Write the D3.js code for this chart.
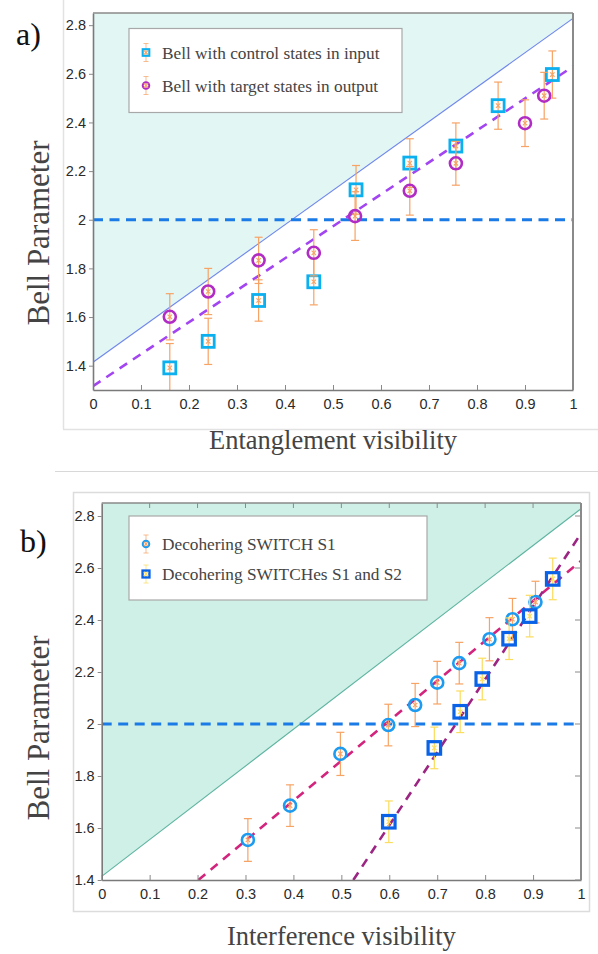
<!DOCTYPE html>
<html>
<head>
<meta charset="utf-8">
<script src="https://cdn.jsdelivr.net/npm/d3@7"></script>
<style>
  body { margin: 0; background: #fff; }
  svg { display: block; }
</style>
</head>
<body>
<svg width="598" height="954"></svg>
<script>
// panel a data
var visA_sq = [0.16, 0.24, 0.345, 0.46, 0.548, 0.66, 0.756, 0.844, 0.957];
var bellA_sq = [1.391, 1.50, 1.668, 1.745, 2.123, 2.233, 2.303, 2.469, 2.597];
var errA_sq = [0.10, 0.095, 0.085, 0.095, 0.10, 0.10, 0.095, 0.097, 0.097];

var visA_ci = [0.16, 0.24, 0.345, 0.46, 0.546, 0.66, 0.756, 0.90, 0.94];
var bellA_ci = [1.601, 1.705, 1.833, 1.864, 2.015, 2.119, 2.232, 2.397, 2.51];
var errA_ci = [0.095, 0.095, 0.095, 0.095, 0.10, 0.10, 0.09, 0.096, 0.096];

var fitA = [[0, 1.316], [1, 2.63]];

// panel b data
var visB_ci = [0.305, 0.393, 0.498, 0.598, 0.654, 0.70, 0.746, 0.809, 0.857, 0.905];
var bellB_ci = [1.554, 1.686, 1.885, 1.996, 2.073, 2.159, 2.234, 2.326, 2.403, 2.469];
var errB_ci = [0.082, 0.08, 0.083, 0.08, 0.083, 0.082, 0.08, 0.083, 0.08, 0.08];

var visB_sq = [0.599, 0.694, 0.748, 0.794, 0.85, 0.893, 0.941];
var bellB_sq = [1.624, 1.908, 2.047, 2.173, 2.328, 2.415, 2.558];
var errB_sq = [0.08, 0.08, 0.08, 0.08, 0.08, 0.08, 0.08];

var fitB1 = [[0.2017, 1.4], [1, 2.627]];
var fitB2 = [[0.525, 1.4], [1, 2.733]];

// classical bound line and reference level
var bound = [[0, 1.414], [1, 2.828]];
var classical = 2;

var xTicks = [0, 0.1, 0.2, 0.3, 0.4, 0.5, 0.6, 0.7, 0.8, 0.9, 1];
var yTicks = [1.4, 1.6, 1.8, 2, 2.2, 2.4, 2.6, 2.8];

var legendA = ['Bell with control states in input', 'Bell with target states in output'];
var legendB = ['Decohering SWITCH S1', 'Decohering SWITCHes S1 and S2'];

var svg = d3.select("svg");
var serif = "'Liberation Serif', 'DejaVu Serif', serif";
var sans = "'Liberation Sans', Arial, sans-serif";
var fmt = function(d){ return String(+d.toFixed(1)); };

// panel frames
svg.append("line").attr("x1", 63.5).attr("x2", 63.5).attr("y1", 0).attr("y2", 429)
  .attr("stroke", "#e2e2e2").attr("stroke-width", 1.5);
svg.append("line").attr("x1", 63).attr("x2", 598).attr("y1", 429.5).attr("y2", 429.5)
  .attr("stroke", "#e2e2e2").attr("stroke-width", 1.5);
svg.append("line").attr("x1", 55).attr("x2", 598).attr("y1", 471.5).attr("y2", 471.5)
  .attr("stroke", "#d8d8d8").attr("stroke-width", 1);
svg.append("rect").attr("x", 73.5).attr("y", 492.5).attr("width", 516).attr("height", 419)
  .attr("fill", "none").attr("stroke", "#dcdcdc").attr("stroke-width", 1.5);

function drawPanel(p) {
  var x = d3.scaleLinear().domain([0, 1]).range([p.left, p.right]);
  var y = d3.scaleLinear().domain(p.ydom).range([p.bottom, p.top]);
  var g = svg.append("g");
  var clipId = "clip" + p.id;
  g.append("clipPath").attr("id", clipId).append("rect")
    .attr("x", p.left).attr("y", p.top).attr("width", p.right - p.left).attr("height", p.bottom - p.top);
  var area = g.append("g").attr("clip-path", "url(#" + clipId + ")");

  // quantum region above the bound line
  var topY = p.ydom[1] + 1;
  area.append("path")
    .attr("d", "M" + x(bound[0][0]) + "," + y(bound[0][1]) +
      "L" + x(bound[1][0]) + "," + y(bound[1][1]) +
      "L" + x(1) + "," + y(topY) + "L" + x(0) + "," + y(topY) + "Z")
    .attr("fill", p.fill);
  area.append("line")
    .attr("x1", x(bound[0][0])).attr("y1", y(bound[0][1]))
    .attr("x2", x(bound[1][0])).attr("y2", y(bound[1][1]))
    .attr("stroke", p.boundColor).attr("stroke-width", 1.1);

  // classical limit
  area.append("line")
    .attr("x1", x(0)).attr("x2", x(1)).attr("y1", y(classical)).attr("y2", y(classical))
    .attr("stroke", "#1a7ae6").attr("stroke-width", 3).attr("stroke-dasharray", "10,6.5");

  // fits
  p.fits.forEach(function(f){
    area.append("line")
      .attr("x1", x(f.pts[0][0])).attr("y1", y(f.pts[0][1]))
      .attr("x2", x(f.pts[1][0])).attr("y2", y(f.pts[1][1]))
      .attr("stroke", f.color).attr("stroke-width", 2.6).attr("stroke-dasharray", "9,7");
  });

  // series
  p.series.forEach(function(s){
    var data = s.vis.map(function(v, i){ return { x: v, y: s.bell[i], e: s.err[i] }; });
    var eg = area.append("g").attr("stroke", s.errColor).attr("stroke-width", 1.2);
    data.forEach(function(d){
      var cx = x(d.x);
      eg.append("line").attr("x1", cx).attr("x2", cx).attr("y1", y(d.y - d.e)).attr("y2", y(d.y + d.e));
      eg.append("line").attr("x1", cx - 4).attr("x2", cx + 4).attr("y1", y(d.y - d.e)).attr("y2", y(d.y - d.e));
      eg.append("line").attr("x1", cx - 4).attr("x2", cx + 4).attr("y1", y(d.y + d.e)).attr("y2", y(d.y + d.e));
    });
    data.forEach(function(d){
      drawMarker(area, s, x(d.x), y(d.y));
    });
  });

  // axes
  var ax = g.append("g").attr("transform", "translate(0," + p.bottom + ")")
    .call(d3.axisBottom(x).tickValues(xTicks).tickFormat(fmt).tickSizeInner(-5).tickSizeOuter(0).tickPadding(9));
  var ay = g.append("g").attr("transform", "translate(" + p.left + ",0)")
    .call(d3.axisLeft(y).tickValues(yTicks).tickFormat(fmt).tickSizeInner(4).tickSizeOuter(0).tickPadding(3));
  [ax, ay].forEach(function(a){
    a.select(".domain").attr("stroke", "#7a7a7a").attr("stroke-width", 1.6);
    a.selectAll(".tick line").attr("stroke", "#8a8a8a");
    a.selectAll(".tick text").attr("font-family", sans).attr("font-size", 14.5).attr("fill", "#2a2a2a");
  });

  // top and right borders
  g.append("line").attr("x1", p.left).attr("x2", p.right).attr("y1", p.top).attr("y2", p.top)
    .attr("stroke", "#8a8a8a").attr("stroke-width", 1.6);
  g.append("line").attr("x1", p.right).attr("x2", p.right).attr("y1", p.top).attr("y2", p.bottom)
    .attr("stroke", "#8a8a8a").attr("stroke-width", 2);
  if (p.boxTicks) {
    xTicks.slice(1, -1).forEach(function(t){
      g.append("line").attr("x1", x(t)).attr("x2", x(t)).attr("y1", p.top).attr("y2", p.top + 5)
        .attr("stroke", "#8a8a8a");
    });
    yTicks.forEach(function(t){
      g.append("line").attr("x1", p.right - 6).attr("x2", p.right).attr("y1", y(t)).attr("y2", y(t))
        .attr("stroke", "#8a8a8a");
    });
  }

  // legend
  var lg = g.append("g");
  lg.append("rect").attr("x", p.legend.x).attr("y", p.legend.y)
    .attr("width", p.legend.w).attr("height", p.legend.h)
    .attr("fill", "#fff").attr("stroke", "#a8a8a8").attr("stroke-width", 1.2);
  p.series.forEach(function(s, i){
    var my = p.legend.y + p.legend.rows[i];
    var mx = p.legend.x + 17;
    lg.append("line").attr("x1", mx).attr("x2", mx).attr("y1", my - 9).attr("y2", my + 9)
      .attr("stroke", s.errColor).attr("stroke-width", 1).attr("opacity", 0.7);
    lg.append("line").attr("x1", mx - 2.5).attr("x2", mx + 2.5).attr("y1", my - 9).attr("y2", my - 9)
      .attr("stroke", s.errColor).attr("stroke-width", 1).attr("opacity", 0.7);
    lg.append("line").attr("x1", mx - 2.5).attr("x2", mx + 2.5).attr("y1", my + 9).attr("y2", my + 9)
      .attr("stroke", s.errColor).attr("stroke-width", 1).attr("opacity", 0.7);
    drawMarker(lg, Object.assign({}, s, { size: s.size * 0.55, sw: s.sw * 0.75 }), mx, my);
    lg.append("text").attr("x", p.legend.x + 33).attr("y", my + 6)
      .attr("font-family", serif).attr("font-size", 17.3).attr("fill", "#444")
      .text(p.legendText[i]);
  });

  // labels
  svg.append("text").attr("transform", "translate(" + p.ylabX + "," + p.ylabY + ") rotate(-90)")
    .attr("text-anchor", "middle").attr("font-family", serif).attr("font-size", 31).attr("fill", "#444")
    .text("Bell Parameter");
  svg.append("text").attr("x", (p.left + p.right) / 2).attr("y", p.xlabY)
    .attr("text-anchor", "middle").attr("font-family", serif).attr("font-size", 26.5).attr("fill", "#444")
    .text(p.xlab);
  svg.append("text").attr("x", p.tagX).attr("y", p.tagY)
    .attr("font-family", serif).attr("font-size", 32).attr("fill", "#111")
    .text(p.tag);
}

function drawMarker(sel, s, cx, cy) {
  if (s.shape === "square") {
    sel.append("rect").attr("x", cx - s.size / 2).attr("y", cy - s.size / 2)
      .attr("width", s.size).attr("height", s.size)
      .attr("fill", "none").attr("stroke", s.color).attr("stroke-width", s.sw);
  } else {
    sel.append("circle").attr("cx", cx).attr("cy", cy).attr("r", s.size / 2)
      .attr("fill", "none").attr("stroke", s.color).attr("stroke-width", s.sw);
  }
  var k = 2.2;
  sel.append("path").attr("d", "M" + (cx - k) + "," + (cy - k) + "L" + (cx + k) + "," + (cy + k) +
      "M" + (cx - k) + "," + (cy + k) + "L" + (cx + k) + "," + (cy - k))
    .attr("stroke", s.errColor).attr("stroke-width", 1.1);
}

drawPanel({
  id: "a", left: 93, right: 573, top: 13, bottom: 390, ydom: [1.3, 2.85],
  fill: "#e2f6f4", boundColor: "#6f86ee", boxTicks: false,
  fits: [{ pts: fitA, color: "#a244f2" }],
  series: [
    { vis: visA_sq, bell: bellA_sq, err: errA_sq, shape: "square", size: 12, sw: 2.8, color: "#0db0ef", errColor: "#f7a364" },
    { vis: visA_ci, bell: bellA_ci, err: errA_ci, shape: "circle", size: 12, sw: 2.6, color: "#b02cc4", errColor: "#f7a364" }
  ],
  legend: { x: 129, y: 28.5, w: 273, h: 84, rows: [24, 57] },
  legendText: legendA,
  ylabX: 49, ylabY: 233, xlabY: 449, xlab: "Entanglement visibility",
  tag: "a)", tagX: 16, tagY: 45
});

drawPanel({
  id: "b", left: 101.7, right: 581, top: 503, bottom: 880, ydom: [1.4, 2.85],
  fill: "#cff0e6", boundColor: "#5db3a0", boxTicks: true,
  fits: [{ pts: fitB1, color: "#d3247d" }, { pts: fitB2, color: "#9c2482" }],
  series: [
    { vis: visB_ci, bell: bellB_ci, err: errB_ci, shape: "circle", size: 12, sw: 2.6, color: "#1d9bf0", errColor: "#f7a364" },
    { vis: visB_sq, bell: bellB_sq, err: errB_sq, shape: "square", size: 12.5, sw: 3.2, color: "#0a63e6", errColor: "#fbdc5c" }
  ],
  legend: { x: 129, y: 516, w: 298, h: 84, rows: [28, 58] },
  legendText: legendB,
  ylabX: 49, ylabY: 728, xlabY: 945, xlab: "Interference visibility",
  tag: "b)", tagX: 20, tagY: 552
});
</script>
</body>
</html>
